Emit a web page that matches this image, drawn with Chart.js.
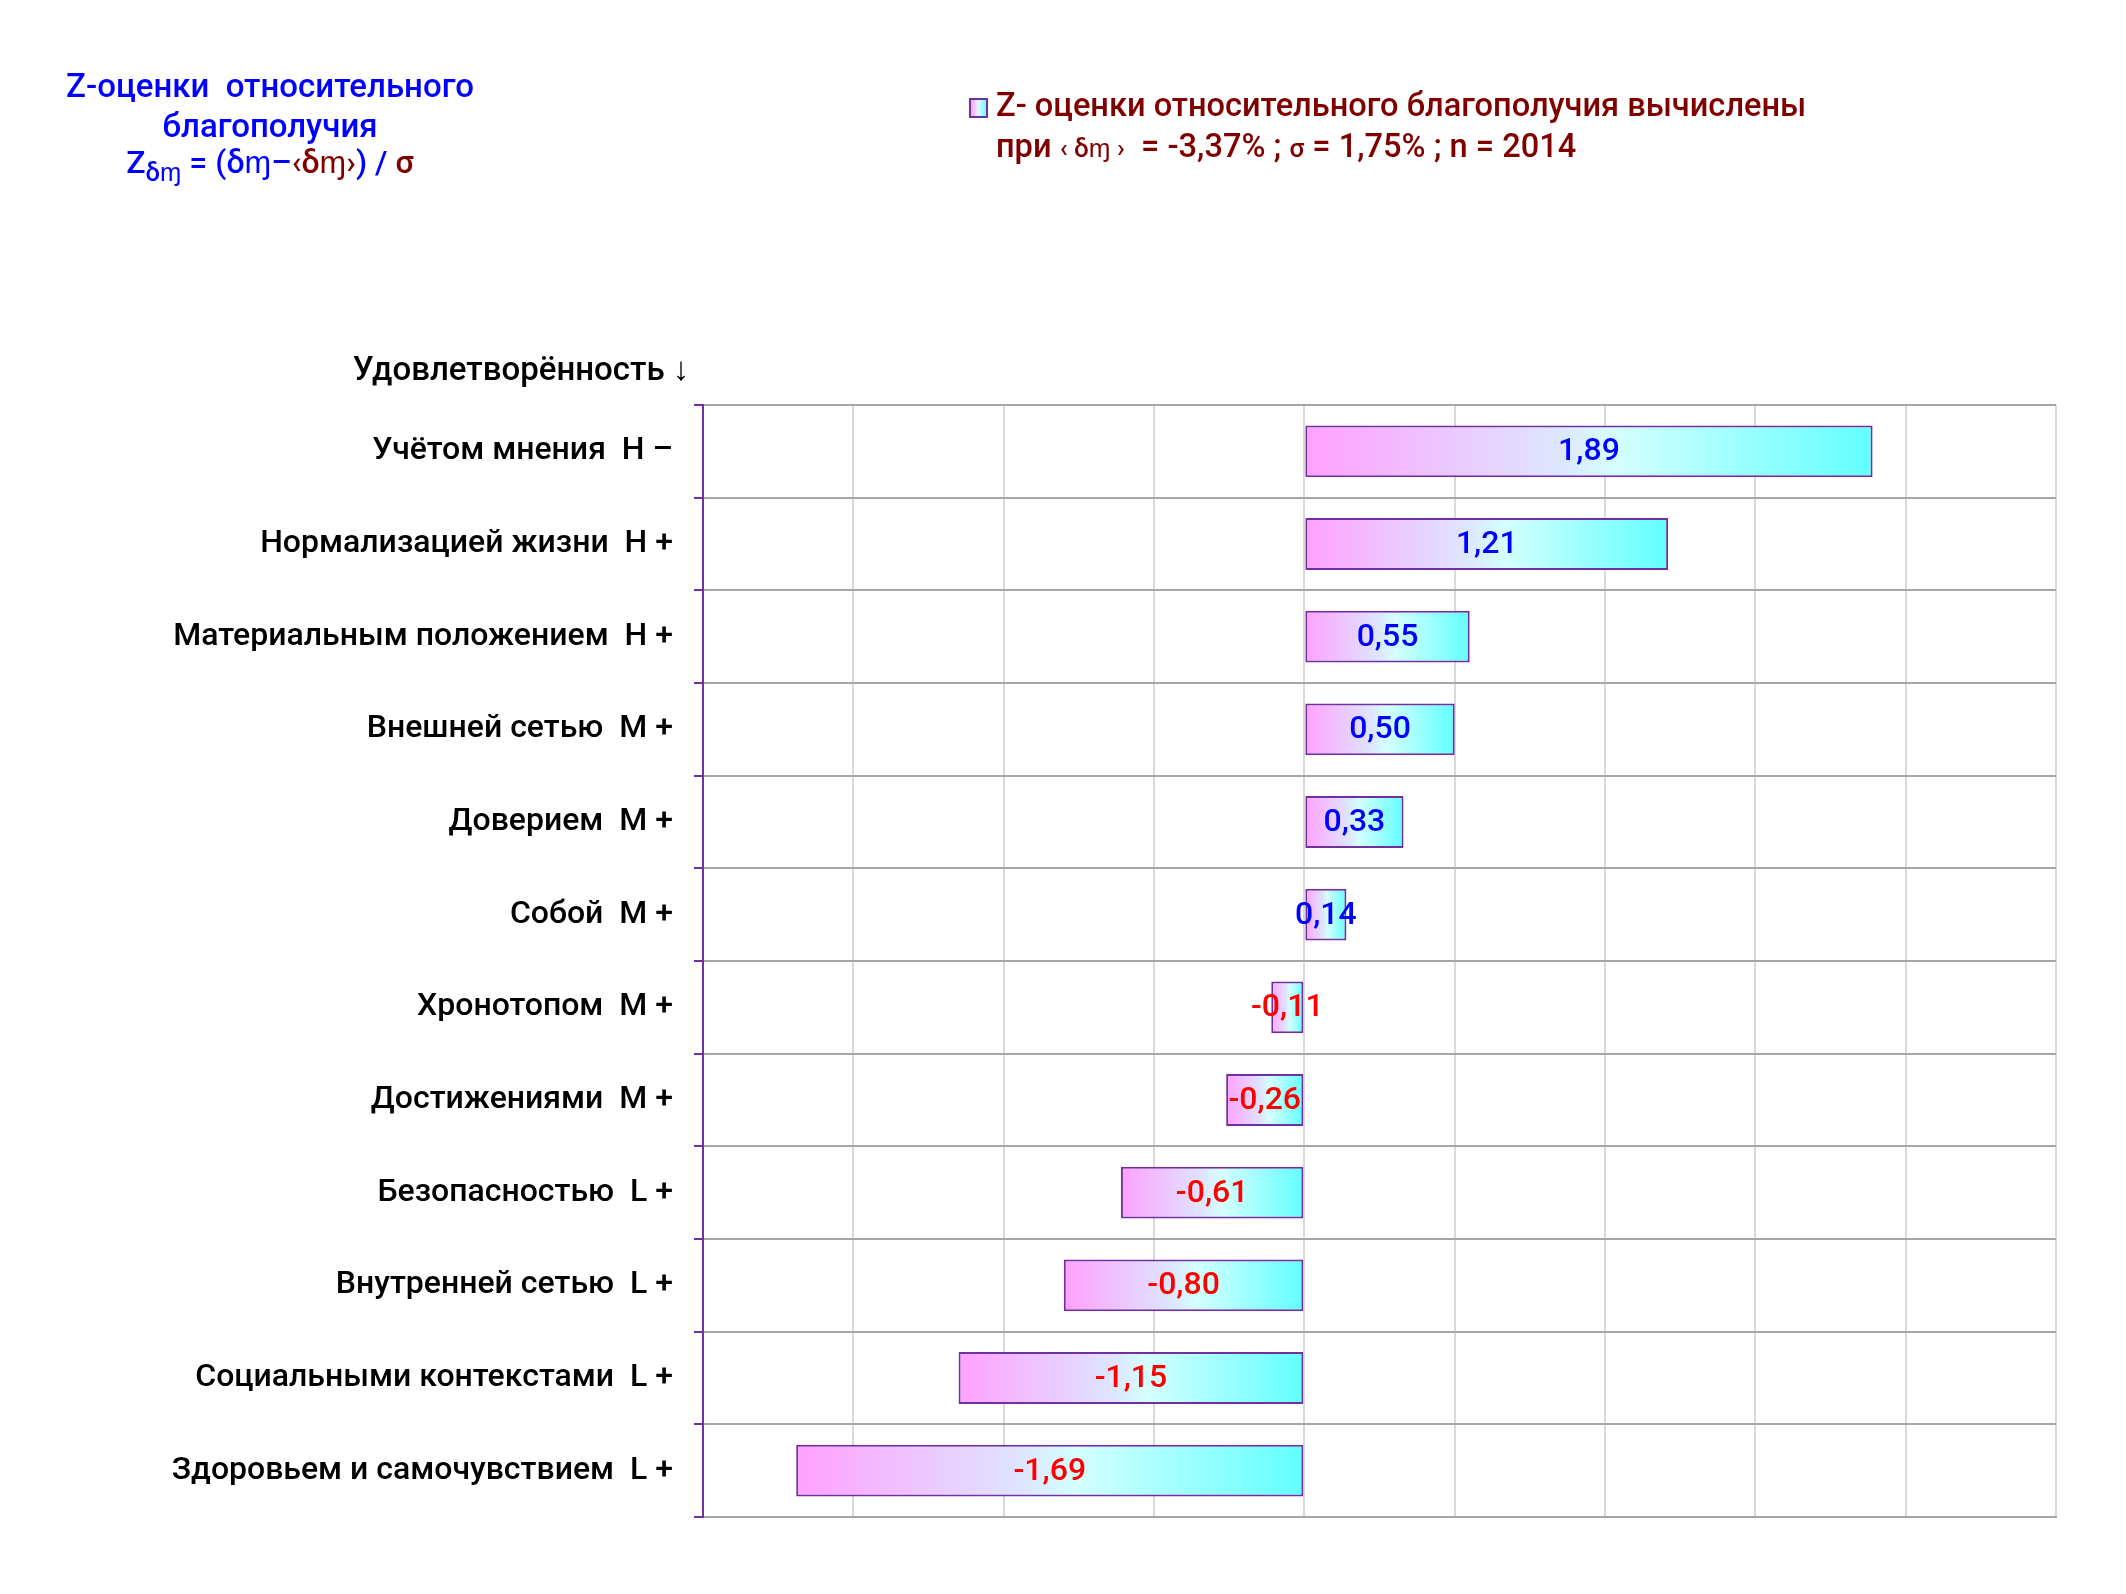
<!DOCTYPE html>
<html>
<head>
<meta charset="utf-8">
<script src="https://cdn.jsdelivr.net/npm/chart.js@4"></script>
<style>
  body { margin: 0; background: #fff; }
  #wrap { position: relative; width: 2126px; height: 1594px; font-family: Roboto, sans-serif; }
  #chart { position: absolute; left: 0; top: 0; }
  .txt { position: absolute; white-space: nowrap; font-weight: 500; }
  .c { transform: translate(-50%, -50%); }
  .l { transform: translateY(-50%); }
  .blue { color: #0000ff; }
  .dred { color: #800000; }
  .small { font-size: 0.8em; }
  #swatch { position: absolute; left: 969px; top: 98px; width: 15px; height: 16px;
    border: 2px solid #7030a0; background: linear-gradient(90deg, #ffa0ff, #dff6ff, #66ffff); }
</style>
</head>
<body>
<div id="wrap">
  <canvas id="chart" width="2126" height="1594"></canvas>

  <div class="txt c blue" style="left:270px; top:85px; font-size:33px;">Z-оценки&nbsp; относительного</div>
  <div class="txt c blue" style="left:270px; top:125px; font-size:33px;">благополучия</div>
  <div class="txt c blue" style="left:270px; top:165px; font-size:32px;">Z<sub class="small">δɱ</sub> = (δɱ–<span class="dred">‹δɱ›</span>) / <span class="dred">σ</span></div>

  <div id="swatch"></div>
  <div class="txt l dred" style="left:996px; top:105px; font-size:32.6px;">Z- оценки относительного благополучия вычислены</div>
  <div class="txt l dred" style="left:996px; top:146px; font-size:32.6px;">при <span class="small">‹ δɱ ›</span>&nbsp; = -3,37% ; <span class="small">σ</span> = 1,75% ; n = 2014</div>

  <div class="txt c" style="left:521px; top:368px; font-size:33px; color:#000;">Удовлетворённость ↓</div>
</div>

<script>
////////////////// Data ///////////////////////

const categories = [
  "Учётом мнения  Н –",
  "Нормализацией жизни  Н +",
  "Материальным положением  Н +",
  "Внешней сетью  М +",
  "Доверием  М +",
  "Собой  М +",
  "Хронотопом  М +",
  "Достижениями  М +",
  "Безопасностью  L +",
  "Внутренней сетью  L +",
  "Социальными контекстами  L +",
  "Здоровьем и самочувствием  L +",
];

const zScores = [1.89, 1.21, 0.55, 0.5, 0.33, 0.14, -0.11, -0.26, -0.61, -0.8, -1.15, -1.69];

const xMin = -2;
const xMax = 2.5;
const xStep = 0.5;

////////////////// Helpers ///////////////////////

const fmt = (v) => (v < 0 ? "-" : "") + Math.abs(v).toFixed(2).replace(".", ",");

// each bar gets its own pink -> cyan gradient, left to right
const barFill = function (c) {
  const chart = c.chart;
  const x = chart.scales && chart.scales.x;
  if (!x || c.dataIndex === undefined) return "#dff6ff";
  const v = zScores[c.dataIndex];
  const a = x.getPixelForValue(Math.min(0, v));
  const b = x.getPixelForValue(Math.max(0, v));
  if (!isFinite(a) || !isFinite(b) || a === b) return "#dff6ff";
  const g = chart.ctx.createLinearGradient(a, 0, b, 0);
  g.addColorStop(0, "#ffa0ff");
  g.addColorStop(0.45, "#dde6ff");
  g.addColorStop(0.55, "#d4ffff");
  g.addColorStop(1, "#62ffff");
  return g;
};

const valueLabels = {
  id: "valueLabels",
  afterDatasetsDraw(chart) {
    const ctx = chart.ctx;
    const meta = chart.getDatasetMeta(0);
    ctx.save();
    ctx.font = "500 32px Roboto";
    ctx.textAlign = "center";
    ctx.textBaseline = "middle";
    meta.data.forEach((bar, i) => {
      const v = zScores[i];
      ctx.fillStyle = v < 0 ? "#ff0000" : "#0000ff";
      ctx.fillText(fmt(v), (bar.x + bar.base) / 2, bar.y + 1);
    });
    ctx.restore();
  },
};

////////////////// Chart ///////////////////////

const ctx = document.getElementById("chart");
const myChart = new Chart(ctx, {
  type: "bar",
  data: {
    labels: categories,
    datasets: [
      {
        label: "Z- оценки относительного благополучия",
        data: zScores,
        backgroundColor: barFill,
        borderColor: "#7030a0",
        borderWidth: 2,
        borderSkipped: false,
        barPercentage: 0.56,
        categoryPercentage: 1,
      },
    ],
  },
  options: {
    indexAxis: "y",
    responsive: false,
    animation: false,
    layout: {
      padding: { left: 0, top: 405, right: 70, bottom: 77 },
    },
    scales: {
      x: {
        min: xMin,
        max: xMax,
        ticks: { stepSize: xStep, display: false },
        grid: {
          color: (c) => (c.tick && c.tick.value === xMin ? "rgba(0,0,0,0)" : "#d9d9d9"),
          lineWidth: 2,
          drawTicks: false,
        },
        border: { color: "#a6a6a6", width: 2 },
        afterFit: (scale) => {
          scale.height = 0;
        },
      },
      y: {
        grid: {
          color: "#a6a6a6",
          lineWidth: 2,
          tickColor: "#7030a0",
          tickLength: 9,
          offset: true,
        },
        border: { color: "#7030a0", width: 2 },
        ticks: {
          color: "#000",
          padding: 21,
          font: { family: "Roboto", size: 32, weight: "500" },
        },
        afterFit: (scale) => {
          scale.width = 703;
        },
      },
    },
    plugins: {
      legend: { display: false },
      title: { display: false },
      tooltip: { enabled: false },
    },
  },
  plugins: [valueLabels],
});
</script>
</body>
</html>
